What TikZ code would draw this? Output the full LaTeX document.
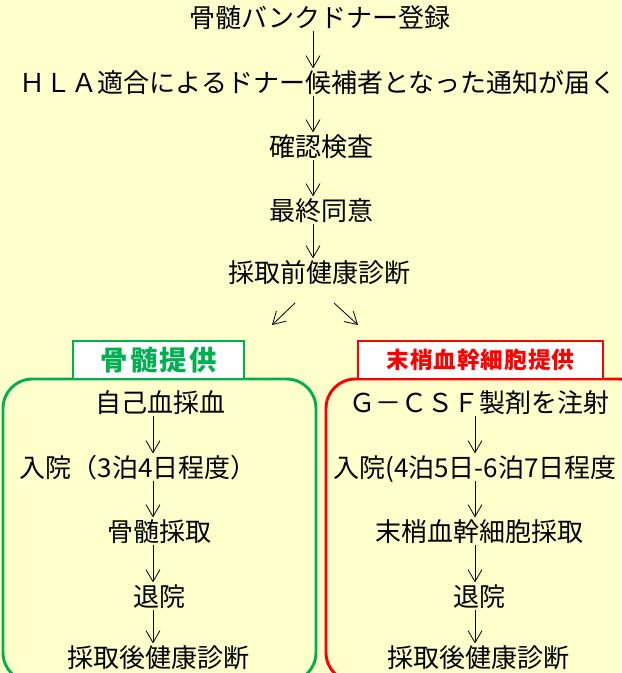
\documentclass[tikz,border=0pt]{standalone}
\usepackage{fontspec}
\newfontfamily\jpfont{Noto Sans CJK JP}
\usetikzlibrary{arrows.meta}

\begin{document}
\begin{tikzpicture}[x=0.75pt,y=-0.75pt][>=stealth]

	\def\W{621}
	\def\H{673}
	\def\midx{313}
	\def\lx{153}
	\def\rx{475}

	% Colours
	\definecolor{bgcolor}{RGB}{255,255,204}
	\definecolor{marrowcolor}{RGB}{0,176,80}
	\definecolor{bloodcolor}{RGB}{255,0,0}

	% Styles
	\tikzstyle{stage}=[font=\jpfont\fontsize{19.5pt}{22pt}\selectfont, inner sep=0pt, text height=17.2pt, text depth=2.3pt]
	\tikzstyle{flow}=[-{Straight Barb[length=9pt,width=10.5pt]}, line width=0.6pt, shorten >=1pt]
	\tikzstyle{panel}=[line width=2.2pt, rounded corners=22pt]
	\tikzstyle{tag}=[draw, fill=white, line width=2.2pt]

	% Background
	\fill[bgcolor] (0,0) rectangle (\W,\H);
	\useasboundingbox (0,0) rectangle (\W,\H);

	% Common steps
	\node[stage] (reg) at (320,18) {骨髄バンクドナー登録};
	\node[stage] (hla) at (318,83) {ＨＬＡ適合によるドナー候補者となった通知が届く};
	\node[stage] (chk) at (321,147) {確認検査};
	\node[stage] (ok) at (321,211) {最終同意};
	\node[stage] (pre) at (319,273) {採取前健康診断};

	\coordinate (mid) at (\midx,0);
	\draw[flow] (reg.south -| mid) -- (hla.north -| mid);
	\draw[flow] (hla.south -| mid) -- (chk.north -| mid);
	\draw[flow] (chk.south -| mid) -- (ok.north -| mid);
	\draw[flow] (ok.south -| mid) -- (pre.north -| mid);

	% Split
	\coordinate (SL) at (295,303);
	\coordinate (EL) at (272,325);
	\coordinate (SR) at (334,303);
	\coordinate (ER) at (358,325);
	\draw[flow, shorten >=0pt] (SL) -- (EL);
	\draw[flow, shorten >=0pt] (SR) -- (ER);

	% Panels
	\draw[panel, draw=marrowcolor] (3,379) rectangle (316,682);
	\draw[panel, draw=bloodcolor] (326,379) rectangle (648,682);
	\node[tag, draw=marrowcolor, minimum width=171*0.75pt, minimum height=38*0.75pt, inner sep=0pt] (bmtag) at (158.5,360) {};
	\node[font=\jpfont\bfseries\fontsize{20.5pt}{24pt}\selectfont\addfontfeature{LetterSpace=8}, text=marrowcolor, inner sep=0pt] at (bmtag) {骨髄提供};
	\node[tag, draw=bloodcolor, minimum width=245*0.75pt, minimum height=38*0.75pt, inner sep=0pt] (pbtag) at (480.5,360) {};
	\node[font=\jpfont\bfseries\fontsize{17pt}{20pt}\selectfont\addfontfeature{LetterSpace=4}, text=bloodcolor, inner sep=0pt] at (pbtag) {末梢血幹細胞提供};

	% Bone marrow steps
	\node[stage] (L1) at (160,403) {自己血採血};
	\node[stage] (L2) at (138,468) {入院（3泊4日程度）};
	\node[stage] (L3) at (159,532) {骨髄採取};
	\node[stage] (L4) at (159,597) {退院};
	\node[stage] (L5) at (158,658) {採取後健康診断};

	\coordinate (lcol) at (\lx,0);
	\foreach \a/\b in {L1/L2, L2/L3, L3/L4, L4/L5}
		\draw[flow] (\a.south -| lcol) -- (\b.north -| lcol);

	% Peripheral blood steps
	\node[stage] (R1) at (479,403) {Ｇ－ＣＳＦ製剤を注射};
	\node[stage, anchor=west] (R2) at (333,468) {入院(4泊5日-6泊7日程度};
	\node[stage] (R3) at (479,532) {末梢血幹細胞採取};
	\node[stage] (R4) at (479,597) {退院};
	\node[stage] (R5) at (478,658) {採取後健康診断};

	\coordinate (rcol) at (\rx,0);
	\foreach \a/\b in {R1/R2, R2/R3, R3/R4, R4/R5}
		\draw[flow] (\a.south -| rcol) -- (\b.north -| rcol);

\end{tikzpicture}
\end{document}
